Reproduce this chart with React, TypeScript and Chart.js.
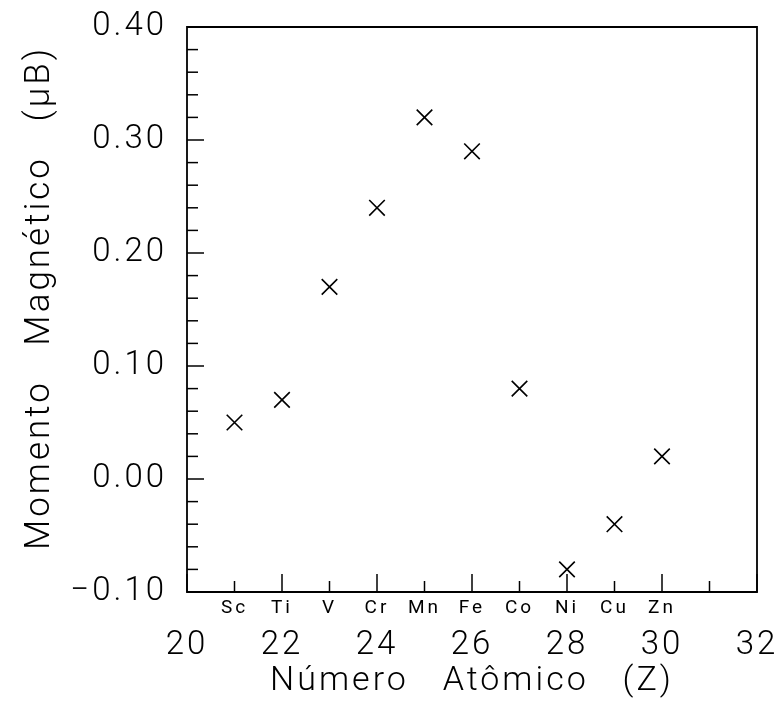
import React, { useEffect, useRef } from 'react';
import { Chart, registerables } from 'chart.js';

Chart.register(...registerables);

// ---- data ----
const elements = ['Sc', 'Ti', 'V', 'Cr', 'Mn', 'Fe', 'Co', 'Ni', 'Cu', 'Zn'];
const atomicNumbers = [21, 22, 23, 24, 25, 26, 27, 28, 29, 30];
const moments = [0.05, 0.07, 0.17, 0.24, 0.32, 0.29, 0.08, -0.08, -0.04, 0.02];
const xMin = 20;
const xMax = 32;
const xLabelStep = 2;
const yMin = -0.1;
const yMax = 0.4;
const yMinorStep = 0.02;
const yMajorStep = 0.1;
const xTitle = 'Número   Atômico   (Z)';
const yTitle = '  Momento   Magnético   (μB)';

const FONT = 'Roboto, "Liberation Sans", sans-serif';

const isMultiple = (v: number, step: number) =>
  Math.abs(v / step - Math.round(v / step)) < 1e-6;

const zeroPad = (s: any) => {
  s.paddingTop = 0;
  s.paddingBottom = 0;
  s.paddingLeft = 0;
  s.paddingRight = 0;
};

const frameAndTicks = {
  id: 'frameAndTicks',
  beforeUpdate(chart: any) {
    (chart.ctx as any).letterSpacing = '3px';
  },
  afterDatasetsDraw(chart: any) {
    const { ctx, chartArea } = chart;
    const { left, right, top, bottom } = chartArea;
    ctx.save();
    ctx.strokeStyle = '#000';
    ctx.lineWidth = 1.8;
    ctx.beginPath();
    ctx.rect(left, top, right - left, bottom - top);
    ctx.stroke();
    // inward y ticks
    const ys = chart.scales.y;
    ctx.lineWidth = 1.5;
    ys.ticks.forEach((t: any) => {
      const py = ys.getPixelForValue(t.value);
      const len = isMultiple(t.value, yMajorStep) ? 17 : 11;
      ctx.beginPath();
      ctx.moveTo(left, py);
      ctx.lineTo(left + len, py);
      ctx.stroke();
    });
    // inward x ticks
    const xs = chart.scales.xe;
    xs.ticks.forEach((t: any) => {
      const px = xs.getPixelForValue(t.value);
      const len = isMultiple(t.value, xLabelStep) ? 18 : 11;
      ctx.beginPath();
      ctx.moveTo(px, bottom);
      ctx.lineTo(px, bottom - len);
      ctx.stroke();
    });
    ctx.restore();
  },
};

export default function App() {
  const ref = useRef<HTMLCanvasElement | null>(null);
  useEffect(() => {
    if (!ref.current) return;
    const chart = new Chart(ref.current, {
      type: 'scatter',
      data: {
        datasets: [
          {
            data: atomicNumbers.map((x, i) => ({ x, y: moments[i] })),
            pointStyle: 'crossRot',
            radius: 11,
            borderColor: '#000',
            backgroundColor: '#000',
            borderWidth: 1.6,
            xAxisID: 'x',
            yAxisID: 'y',
          } as any,
        ],
      },
      options: {
        animation: false,
        responsive: false,
        devicePixelRatio: 1,
        events: [],
        layout: { padding: { top: 27, right: 20, left: 0, bottom: 0 } },
        plugins: { legend: { display: false }, tooltip: { enabled: false } },
        scales: {
          xe: {
            type: 'linear',
            position: 'bottom',
            weight: 0,
            min: xMin,
            max: xMax,
            grid: { display: false, drawTicks: false },
            border: { display: false },
            ticks: {
              stepSize: 1,
              autoSkip: false,
              maxRotation: 0,
              padding: 5,
              color: '#000',
              font: { family: FONT, size: 19 },
              callback: (v: any) => {
                const i = atomicNumbers.indexOf(Number(v));
                return i >= 0 ? elements[i] : '';
              },
            },
            afterFit: (s: any) => {
              s.height = 24;
              zeroPad(s);
            },
          },
          x: {
            type: 'linear',
            position: 'bottom',
            weight: 1,
            min: xMin,
            max: xMax,
            grid: { display: false, drawTicks: false },
            border: { display: false },
            ticks: {
              stepSize: xLabelStep,
              autoSkip: false,
              maxRotation: 0,
              padding: 10,
              color: '#000',
              font: { family: FONT, size: 33, weight: '300' },
              callback: (v: any) => String(v),
            },
            title: {
              display: true,
              text: xTitle,
              color: '#000',
              font: { family: FONT, size: 34, weight: '300' },
              padding: { top: 0, bottom: 4 },
            },
            afterFit: (s: any) => {
              s.height = 90;
              zeroPad(s);
            },
          },
          y: {
            type: 'linear',
            position: 'left',
            min: yMin,
            max: yMax,
            grid: { display: false, drawTicks: false },
            border: { display: false },
            ticks: {
              stepSize: yMinorStep,
              autoSkip: false,
              padding: 20,
              color: '#000',
              font: { family: FONT, size: 33, weight: '300' },
              callback: (v: any) => {
                const n = Number(v);
                if (!isMultiple(n, yMajorStep)) return '';
                const s = Math.abs(n).toFixed(2);
                return n < -1e-9 ? '\u2212' + s : s;
              },
            },
            title: {
              display: true,
              text: yTitle,
              color: '#000',
              font: { family: FONT, size: 35, weight: '300' },
              padding: { top: 19, bottom: 0 },
            },
            afterFit: (s: any) => {
              s.width = 187;
              zeroPad(s);
            },
          },
        },
      } as any,
      plugins: [frameAndTicks],
    });
    return () => chart.destroy();
  }, []);
  return (
    <div style={{ position: 'absolute', left: 0, top: 0, width: 777, height: 706, background: '#fff' }}>
      <canvas ref={ref} width={777} height={706} />
    </div>
  );
}
